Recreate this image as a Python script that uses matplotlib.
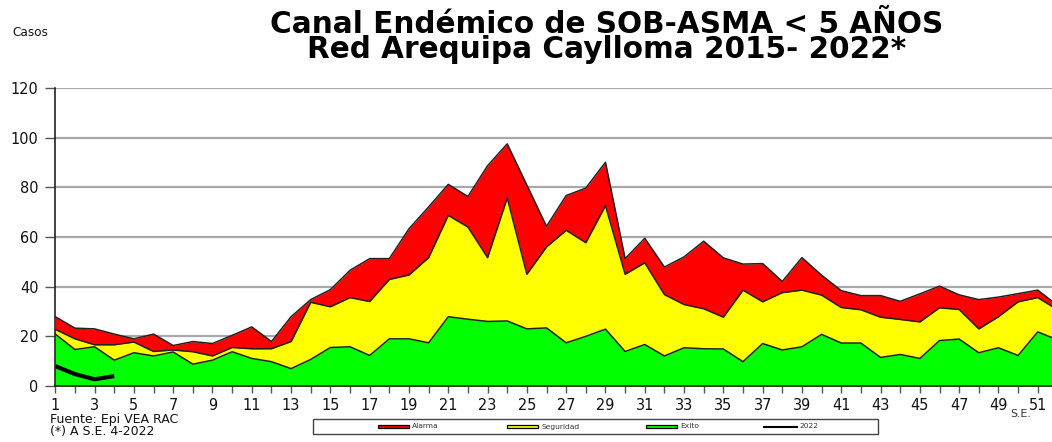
import matplotlib
matplotlib.use("Agg")
import matplotlib.pyplot as plt
from matplotlib.patches import Rectangle
from matplotlib.lines import Line2D

weeks = list(range(1, 53))
exito = [20.9, 14.7, 15.8, 10.4, 13.4, 12.1, 13.7, 8.8, 10.4, 13.8, 11.1, 9.8, 7.0,
         10.7, 15.5, 15.8, 12.3, 19.0, 19.0, 17.4, 27.9, 26.9, 26.0, 26.2, 23.0, 23.4,
         17.4, 20.0, 22.9, 13.9, 16.7, 12.1, 15.4, 15.0, 14.9, 9.8, 17.1, 14.5, 15.8,
         20.8, 17.3, 17.3, 11.5, 12.7, 11.1, 18.3, 18.9, 13.4, 15.4, 12.3, 21.8, 18.6]
seguridad = [22.8, 19.0, 16.6, 16.6, 17.7, 13.9, 14.5, 13.8, 12.1, 15.5, 15.0, 15.0, 17.9,
             33.7, 31.9, 35.6, 34.0, 42.9, 44.7, 51.7, 68.7, 64.0, 51.7, 75.7, 45.0, 56.0,
             62.7, 57.7, 72.6, 45.0, 49.6, 36.8, 32.8, 31.1, 27.7, 38.6, 33.9, 37.6, 38.6,
             36.6, 31.6, 30.7, 27.7, 26.8, 25.8, 31.5, 30.8, 23.0, 27.9, 33.9, 35.6, 30.7]
alarma = [27.9, 23.3, 23.0, 20.9, 19.0, 20.9, 16.3, 17.9, 17.1, 20.4, 23.8, 17.9, 27.9,
          34.8, 38.8, 46.6, 51.3, 51.3, 63.3, 72.1, 81.2, 76.3, 88.7, 97.5, 80.9, 64.3,
          76.7, 79.7, 90.1, 51.3, 59.5, 47.9, 52.0, 58.3, 51.6, 49.1, 49.3, 42.1, 51.7,
          44.6, 38.4, 36.4, 36.4, 34.1, 37.1, 40.2, 36.7, 34.8, 35.8, 37.2, 38.6, 32.5]
weeks_2022 = [1, 2, 3, 4]
casos_2022 = [8.0, 4.8, 2.7, 4.0]

yticks = [0, 20, 40, 60, 80, 100, 120]
xticks = list(range(1, 53, 2))

W, H = 1052, 442
fig = plt.figure(figsize=(W / 100, H / 100), dpi=100)
plt.rcParams['font.family'] = ['DejaVu Sans']

def pt(px):
    return px * 72 / 100

# main axes (pixel geometry)
left, right, top, bottom = 55.3, 1057.4, 88.0, 386.0
ax = fig.add_axes([left / W, (H - bottom) / H, (right - left) / W, (bottom - top) / H])
ax.set_xlim(1, 52)
ax.set_ylim(0, 120)

ax.fill_between(weeks, 0, alarma, color='#FF0000', lw=0, zorder=2)
ax.fill_between(weeks, 0, seguridad, color='#FFFF00', lw=0, zorder=3)
ax.fill_between(weeks, 0, exito, color='#00FF00', lw=0, zorder=4)
ax.plot(weeks, alarma, color='#222222', lw=1.1, zorder=5)
ax.plot(weeks, seguridad, color='#222222', lw=1.1, zorder=5)
ax.plot(weeks, exito, color='#222222', lw=1.1, zorder=5)
ax.plot(weeks_2022, casos_2022, color='black', lw=3, zorder=6, solid_capstyle='butt')

for y in yticks[1:]:
    ax.axhline(y, color='#a8a8a8', lw=1.6, zorder=1)

ax.set_yticks(yticks)
ax.set_xticks(xticks)
ax.set_xticks(weeks, minor=True)
ax.tick_params(axis='y', length=7, width=1, color='#555555', pad=5,
               labelsize=pt(14.5), labelcolor='#111111')
ax.tick_params(axis='x', which='major', length=5, width=1, color='#555555', pad=4,
               labelsize=pt(14.5), labelcolor='#111111')
ax.tick_params(axis='x', which='minor', length=5, width=1, color='#555555')
for s in ['top', 'right']:
    ax.spines[s].set_visible(False)
ax.spines['left'].set_color('#222222')
ax.spines['bottom'].set_color('#222222')
ax.spines['left'].set_linewidth(1.2)
ax.spines['bottom'].set_linewidth(1.2)
ax.spines['left'].set_zorder(7)
ax.spines['bottom'].set_zorder(7)

# overlay axes in pixel coordinates
ov = fig.add_axes([0, 0, 1, 1], facecolor='none')
ov.set_xlim(0, W)
ov.set_ylim(H, 0)
ov.axis('off')

ov.text(607, 58, 'Canal Endémico de SOB-ASMA < 5 AÑOS\nRed Arequipa Caylloma 2015- 2022*',
        ha='center', va='baseline', multialignment='center', linespacing=0.82,
        fontsize=pt(29.5), fontweight='bold', color='black')
ov.text(12, 33, 'Casos', ha='left', va='center', fontsize=pt(12), color='#111111')
ov.text(1021, 414, 'S.E.', ha='center', va='center', fontsize=pt(11), color='#333333')
ov.text(50, 419, 'Fuente: Epi VEA RAC', ha='left', va='center', fontsize=pt(12.5), color='#111111')
ov.text(50, 432, '(*) A S.E. 4-2022', ha='left', va='center', fontsize=pt(12.5), color='#111111')

# legend box
ov.add_patch(Rectangle((313, 419), 565, 15, fill=False, ec='#444444', lw=1))
yc = 426.5
items = [(378, 'Alarma', '#FF0000'), (507, 'Seguridad', '#FFFF00'), (646, 'Exito', '#00FF00')]
for x0, lab, col in items:
    ov.add_patch(Rectangle((x0, yc - 1.8), 31, 3.6, fc=col, ec='black', lw=0.9))
    ov.text(x0 + 34, yc, lab, ha='left', va='center', fontsize=pt(7.5), color='#333333')
ov.add_line(Line2D([764, 797], [yc, yc], color='black', lw=1.5))
ov.text(799, yc, '2022', ha='left', va='center', fontsize=pt(7.5), color='#333333')

fig.savefig('out.png', dpi=100)
